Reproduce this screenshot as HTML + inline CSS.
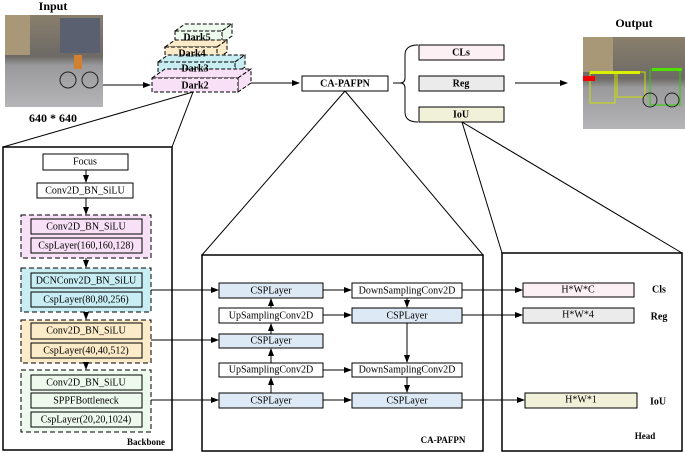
<!DOCTYPE html>
<html><head><meta charset="utf-8"><style>
body{margin:0;background:#fff}
svg{display:block}
text{font-family:"Liberation Serif",serif;font-size:10px;fill:#000;text-anchor:middle;dominant-baseline:central}
.b{font-weight:bold}
</style></head><body>
<svg width="685" height="453" viewBox="0 0 685 453" xmlns="http://www.w3.org/2000/svg">
<defs>
<marker id="a" markerWidth="8" markerHeight="6" refX="7" refY="3" orient="auto" markerUnits="userSpaceOnUse"><path d="M0,0 L8,3 L0,6z" fill="#000"/></marker>
<linearGradient id="img" x1="0" y1="0" x2="0" y2="1"><stop offset="0" stop-color="#8a7f6c"/><stop offset="0.45" stop-color="#6d6a66"/><stop offset="0.55" stop-color="#9a9a9c"/><stop offset="1" stop-color="#b5b5b7"/></linearGradient>
</defs>
<g stroke="#000" fill="none">
<rect x="5" y="15" width="98" height="92" fill="url(#img)" stroke="none"/>
<rect x="5" y="15" width="25" height="40" fill="#a89878" stroke="none"/>
<rect x="60" y="18" width="40" height="35" fill="#5a6070" stroke="none"/>
<circle cx="68" cy="80" r="8" stroke="#222"/><circle cx="90" cy="80" r="8" stroke="#222"/>
<rect x="74" y="55" width="8" height="14" fill="#d08030" stroke="none"/>
<rect x="583" y="37" width="102" height="92" fill="url(#img)" stroke="none"/>
<rect x="583" y="37" width="30" height="35" fill="#a89878" stroke="none"/>
<rect x="590" y="72" width="25" height="31" stroke="#c8e000"/>
<rect x="617" y="72" width="28" height="25" stroke="#c8e000"/>
<rect x="650" y="70" width="30" height="35" stroke="#30d000"/>
<rect x="583" y="76" width="12" height="5" fill="#e00" stroke="none"/>
<rect x="590" y="71" width="50" height="3" fill="#d8f000" stroke="none"/>
<rect x="652" y="68" width="30" height="3" fill="#50e000" stroke="none"/>
<circle cx="650" cy="100" r="7" stroke="#222"/><circle cx="672" cy="100" r="7" stroke="#222"/>
<line x1="103" y1="85" x2="150" y2="85" marker-end="url(#a)"/>
<line x1="245" y1="83" x2="299" y2="83" marker-end="url(#a)"/>
<line x1="515" y1="83" x2="567" y2="83" marker-end="url(#a)"/>
<line x1="393" y1="83" x2="400" y2="83"/>
<g stroke-dasharray="4,2">
<polygon points="175,31 185,24 232,24 222,31" fill="#eefaee"/><polygon points="222,31 232,24 232,36 222,43" fill="#eefaee"/><rect x="175" y="31" width="47" height="12" fill="#eefaee"/>
<polygon points="165,47 175,40 227,40 217,47" fill="#fbebc8"/><polygon points="217,47 227,40 227,52 217,59" fill="#fbebc8"/><rect x="165" y="47" width="52" height="12" fill="#fbebc8"/>
<polygon points="158,62 168,55 245,55 235,62" fill="#c8eef4"/><polygon points="235,62 245,55 245,67 235,74" fill="#c8eef4"/><rect x="158" y="62" width="77" height="12" fill="#c8eef4"/>
<polygon points="152,78 165,69 251,69 238,78" fill="#f8e0f6"/><polygon points="238,78 251,69 251,83 238,92" fill="#f8e0f6"/><rect x="152" y="78" width="86" height="14" fill="#f8e0f6"/>
</g>
<rect x="302" y="76" width="86" height="15" fill="#fff"/>
<path d="M418,45 Q405,45 405,55 L405,78 Q405,83 400,83 Q405,83 405,88 L405,112 Q405,122 418,122"/>
<rect x="419" y="45" width="85" height="15" fill="#fdf0f4"/>
<rect x="419" y="76" width="85" height="15" fill="#ebebeb"/>
<rect x="419" y="107" width="85" height="15" fill="#f1f1da"/>
<line x1="193" y1="92" x2="3" y2="147"/><line x1="193" y1="92" x2="172" y2="147"/>
<line x1="345" y1="91" x2="202" y2="255"/><line x1="345" y1="91" x2="483" y2="255"/>
<line x1="462" y1="122" x2="502" y2="253"/><line x1="462" y1="122" x2="682" y2="253"/>
<rect x="3" y="147" width="169" height="303" stroke-width="1.5" fill="#fff"/>
<rect x="202" y="255" width="281" height="196" stroke-width="1.5" fill="#fff"/>
<rect x="502" y="253" width="180" height="198" stroke-width="1.5" fill="#fff"/>
<rect x="43" y="154" width="85" height="16" fill="#fff"/>
<rect x="37" y="183" width="96" height="15" fill="#fff"/>
<line x1="86" y1="170" x2="86" y2="182" marker-end="url(#a)"/>
<line x1="86" y1="198" x2="86" y2="214" marker-end="url(#a)"/>
<g stroke-dasharray="5,3">
<rect x="21" y="215" width="130" height="43" fill="#f8e0f6"/>
<rect x="21" y="268" width="130" height="44" fill="#c8eef4"/>
<rect x="21" y="320" width="130" height="43" fill="#fbebc8"/>
<rect x="21" y="370" width="130" height="62" fill="#eefaee"/>
</g>
<rect x="31" y="219" width="111" height="15" fill="#f8e0f6"/><rect x="31" y="238" width="111" height="15" fill="#f8e0f6"/>
<rect x="31" y="273" width="111" height="15" fill="#c8eef4"/><rect x="31" y="292" width="111" height="15" fill="#c8eef4"/>
<rect x="31" y="323" width="111" height="16" fill="#fbebc8"/><rect x="31" y="343" width="111" height="15" fill="#fbebc8"/>
<rect x="31" y="375" width="111" height="15" fill="#eefaee"/><rect x="31" y="393" width="111" height="15" fill="#eefaee"/><rect x="31" y="412" width="111" height="15" fill="#eefaee"/>
<line x1="86" y1="258" x2="86" y2="267" marker-end="url(#a)"/>
<line x1="86" y1="312" x2="86" y2="319" marker-end="url(#a)"/>
<line x1="86" y1="363" x2="86" y2="369" marker-end="url(#a)"/>
<line x1="151" y1="290" x2="218" y2="290" marker-end="url(#a)"/>
<line x1="151" y1="340" x2="218" y2="340" marker-end="url(#a)"/>
<line x1="151" y1="400" x2="218" y2="400" marker-end="url(#a)"/>
<rect x="219" y="283" width="104" height="15" fill="#dde9f5"/>
<rect x="219" y="308" width="104" height="15" fill="#fff"/>
<rect x="219" y="334" width="104" height="14" fill="#dde9f5"/>
<rect x="219" y="363" width="104" height="14" fill="#fff"/>
<rect x="219" y="393" width="104" height="15" fill="#dde9f5"/>
<rect x="352" y="283" width="110" height="15" fill="#fff"/>
<rect x="352" y="308" width="110" height="15" fill="#dde9f5"/>
<rect x="352" y="363" width="110" height="14" fill="#fff"/>
<rect x="352" y="393" width="110" height="15" fill="#dde9f5"/>
<line x1="271" y1="393" x2="271" y2="378" marker-end="url(#a)"/>
<line x1="271" y1="363" x2="271" y2="349" marker-end="url(#a)"/>
<line x1="271" y1="334" x2="271" y2="324" marker-end="url(#a)"/>
<line x1="271" y1="308" x2="271" y2="299" marker-end="url(#a)"/>
<line x1="323" y1="290" x2="351" y2="290" marker-end="url(#a)"/>
<line x1="323" y1="315" x2="351" y2="315" marker-end="url(#a)"/>
<line x1="323" y1="370" x2="351" y2="370" marker-end="url(#a)"/>
<line x1="323" y1="400" x2="351" y2="400" marker-end="url(#a)"/>
<line x1="407" y1="298" x2="407" y2="307" marker-end="url(#a)"/>
<line x1="407" y1="323" x2="407" y2="362" marker-end="url(#a)"/>
<line x1="407" y1="377" x2="407" y2="392" marker-end="url(#a)"/>
<line x1="462" y1="290" x2="522" y2="290" marker-end="url(#a)"/>
<line x1="462" y1="315" x2="522" y2="315" marker-end="url(#a)"/>
<line x1="462" y1="400" x2="524" y2="400" marker-end="url(#a)"/>
<rect x="523" y="283" width="111" height="14" fill="#fdf0f4"/>
<rect x="523" y="308" width="111" height="15" fill="#ebebeb"/>
<rect x="525" y="393" width="112" height="15" fill="#f1f1da"/>
</g>
<text x="53" y="6" class="b" style="font-size:12px">Input</text>
<text x="53" y="118" class="b" style="font-size:12px">640 * 640</text>
<text x="634" y="23" class="b" style="font-size:12px">Output</text>
<g class="b" style="font-size:8.5px">
<text x="197" y="38">Dark5</text><text x="192" y="54">Dark4</text><text x="195" y="69">Dark3</text><text x="195" y="86">Dark2</text>
</g>
<text x="345" y="84" class="b">CA-PAFPN</text>
<text x="461" y="53" class="b">CLs</text>
<text x="461" y="84" class="b">Reg</text>
<text x="461" y="115" class="b">IoU</text>
<text x="85" y="162">Focus</text>
<text x="85" y="191">Conv2D_BN_SiLU</text>
<text x="86" y="227">Conv2D_BN_SiLU</text>
<text x="86" y="246">CspLayer(160,160,128)</text>
<text x="86" y="281">DCNConv2D_BN_SiLU</text>
<text x="86" y="300">CspLayer(80,80,256)</text>
<text x="86" y="331">Conv2D_BN_SiLU</text>
<text x="86" y="351">CspLayer(40,40,512)</text>
<text x="86" y="383">Conv2D_BN_SiLU</text>
<text x="86" y="401">SPPFBottleneck</text>
<text x="86" y="420">CspLayer(20,20,1024)</text>
<text x="146" y="442" class="b" style="font-size:9px">Backbone</text>
<text x="271" y="291">CSPLayer</text>
<text x="271" y="316">UpSamplingConv2D</text>
<text x="271" y="341">CSPLayer</text>
<text x="271" y="370">UpSamplingConv2D</text>
<text x="271" y="401">CSPLayer</text>
<text x="407" y="291">DownSamplingConv2D</text>
<text x="407" y="316">CSPLayer</text>
<text x="407" y="370">DownSamplingConv2D</text>
<text x="407" y="401">CSPLayer</text>
<text x="443" y="440" class="b" style="font-size:9px">CA-PAFPN</text>
<text x="578" y="290">H*W*C</text>
<text x="578" y="315">H*W*4</text>
<text x="581" y="400">H*W*1</text>
<text x="659" y="290" class="b">Cls</text>
<text x="659" y="317" class="b">Reg</text>
<text x="658" y="402" class="b">IoU</text>
<text x="645" y="436" class="b" style="font-size:9px">Head</text>
</svg>
</body></html>
